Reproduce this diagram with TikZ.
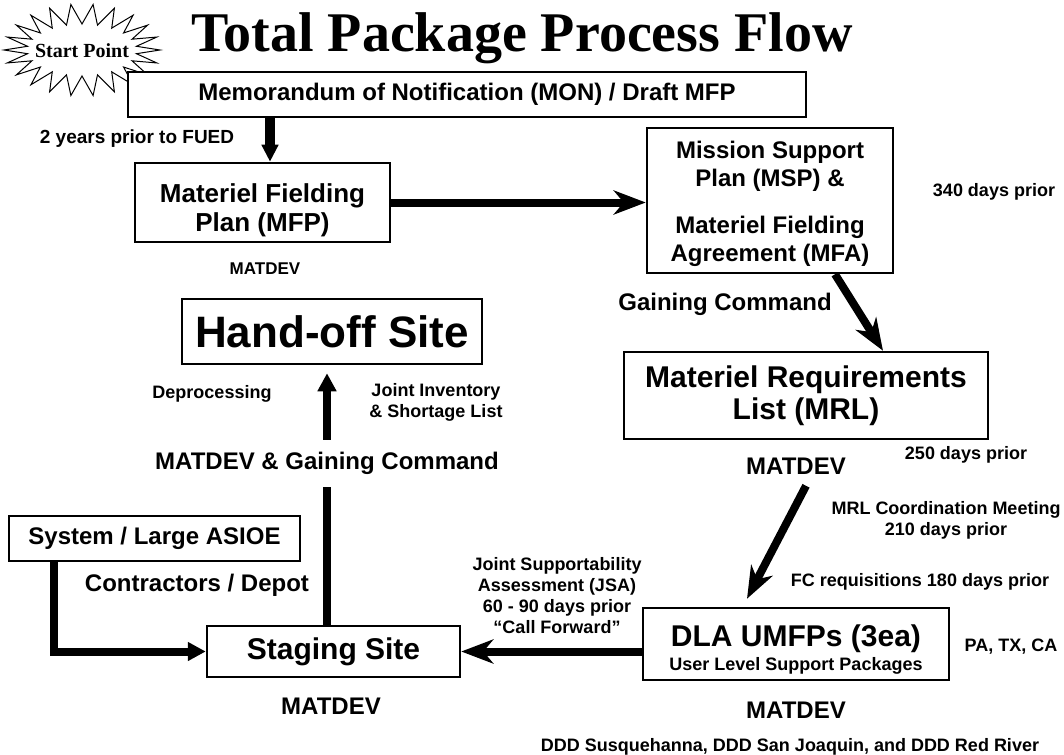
\documentclass[tikz,border=0pt]{standalone}
\usepackage{fontspec}
\setmainfont{Liberation Sans}
\newfontfamily\serifbf{Liberation Serif}
\usetikzlibrary{arrows.meta}
\newcommand\fsz[2]{\fontsize{#1}{#2}\selectfont\bfseries}
\begin{document}
\begin{tikzpicture}[x=1pt,y=-1pt,
  box/.style={draw, line width=2.5pt, fill=white, inner sep=0pt, align=center},
  lbl/.style={inner sep=0pt, align=center},
  bigarrow/.style={line width=8pt, -{Stealth[length=32pt,width=24pt,inset=10pt]}},
  tri/.style={line width=8pt, -{Triangle[length=18pt,width=18pt]}},
]
\useasboundingbox (0,0) rectangle (1064,754);
\fill[white] (0,0) rectangle (1064,754);

% start burst
\begin{scope}[shift={(82,50)}]
\draw[line width=1pt, fill=white] (0:78 and 46)
  \foreach \i in {1,...,22}{ -- ({(2*\i-1)*360/44}:55 and 26) -- ({2*\i*360/44}:78 and 46) } -- cycle;
\end{scope}
\node[lbl, font=\serifbf\fsz{20}{22}] (start) at (82,51) {Start Point};

% title
\node[lbl, anchor=base, font=\serifbf\fsz{56}{60}] (title) at (522,52) {Total Package Process Flow};

% boxes
\node[box, minimum width=678pt, minimum height=45pt, font=\fsz{24}{28}] (mon) at (467,94.5) {Memorandum of Notification (MON) / Draft MFP};
\node[box, minimum width=255pt, minimum height=79pt, font=\fsz{26}{29}] (mfp) at (262.5,202.5) {\rule{0pt}{35pt}Materiel Fielding\\Plan (MFP)};
\node[box, minimum width=246pt, minimum height=145pt, font=\fsz{24}{28}] (msp) at (770,200.5) {\rule{0pt}{23.5pt}Mission Support\\Plan (MSP) \&\\[19pt]Materiel Fielding\\Agreement (MFA)};
\node[box, minimum width=364pt, minimum height=87pt, font=\fsz{30}{32}] (mrl) at (806,395.5) {Materiel Requirements\\List (MRL)};
\node[box, minimum width=306pt, minimum height=72pt, font=\fsz{18}{24}] (dla) at (796,644) {{\fontsize{30}{30}\selectfont\rule{0pt}{32pt}DLA UMFPs (3ea)}\\User Level Support Packages};
\node[box, minimum width=253pt, minimum height=51pt, font=\fsz{30}{32}] (staging) at (333.5,651.5) {Staging Site};
\node[box, minimum width=300pt, minimum height=65pt, font=\fsz{44}{46}] (handoff) at (332,331.5) {Hand-off Site};
\node[box, minimum width=291pt, minimum height=45pt, font=\fsz{24}{28}] (system) at (154.5,538.5) {System / Large ASIOE};

% labels
\node[lbl, anchor=base, font=\fsz{19}{22}] (fued) at (137,144) {2 years prior to FUED};
\node[lbl, anchor=base, font=\fsz{17}{20}] (mfpmat) at (265,274) {MATDEV};
\node[lbl, anchor=base, font=\fsz{18}{21}] (d340) at (994,196.5) {340 days prior};
\node[lbl, anchor=base, font=\fsz{24}{28}] (gain) at (725,310.6) {Gaining Command};
\node[lbl, anchor=base, font=\fsz{18}{21}] (d250) at (966,459.5) {250 days prior};
\node[lbl, anchor=base, font=\fsz{24}{28}] (mrlmat) at (796,474.6) {MATDEV};
\node[lbl, font=\fsz{18}{21}] (mrlcm) at (946,520) {MRL Coordination Meeting\\210 days prior};
\node[lbl, anchor=base, font=\fsz{18}{21}] (fc) at (920,586.5) {FC requisitions 180 days prior};
\node[lbl, anchor=base, font=\fsz{18}{21}] (patxca) at (1011,651.5) {PA, TX, CA};
\node[lbl, anchor=base, font=\fsz{24}{28}] (dlamat) at (796,718.6) {MATDEV};
\node[lbl, anchor=base, font=\fsz{18}{21}] (ddd) at (790,751) {DDD Susquehanna, DDD San Joaquin, and DDD Red River};
\node[lbl, font=\fsz{18}{21}] (jsa) at (557,596) {Joint Supportability\\Assessment (JSA)\\60 - 90 days prior\\``Call Forward''};
\node[lbl, anchor=base, font=\fsz{24}{28}] (stgmat) at (331,714) {MATDEV};
\node[lbl, anchor=base, font=\fsz{18}{21}] (deproc) at (212,398.5) {Deprocessing};
\node[lbl, font=\fsz{18}{21}] (jinv) at (436,402) {Joint Inventory\\\& Shortage List};
\node[lbl, anchor=base, font=\fsz{24}{28}] (contr) at (197,591.6) {Contractors / Depot};

% connectors
\draw[line width=10pt, -{Triangle[length=17pt,width=16pt]}] ([xshift=-197pt]mon.south) -- ([xshift=7.5pt]mfp.north);
\draw[bigarrow] (mfp.east) -- (msp.west |- mfp.east);
\draw[bigarrow] ([xshift=65pt]msp.south) -- ([xshift=77pt]mrl.north);
\draw[bigarrow] ([shift={(10,11)}]mrlmat.south) -- ([shift={(-49,-8)}]dla.north);
\draw[bigarrow] (dla.west |- staging.east) -- (staging.east);
\draw[tri] ([xshift=-100.5pt]system.south) |- (staging.west);
\draw[tri] ([xshift=-6.5pt]staging.north) -- ([shift={(-5,8)}]handoff.south);
\node[lbl, anchor=base, fill=white, inner xsep=2pt, inner ysep=12pt, font=\fsz{24}{28}] (mgc) at (327,469.6) {MATDEV \& Gaining Command};
\end{tikzpicture}
\end{document}
